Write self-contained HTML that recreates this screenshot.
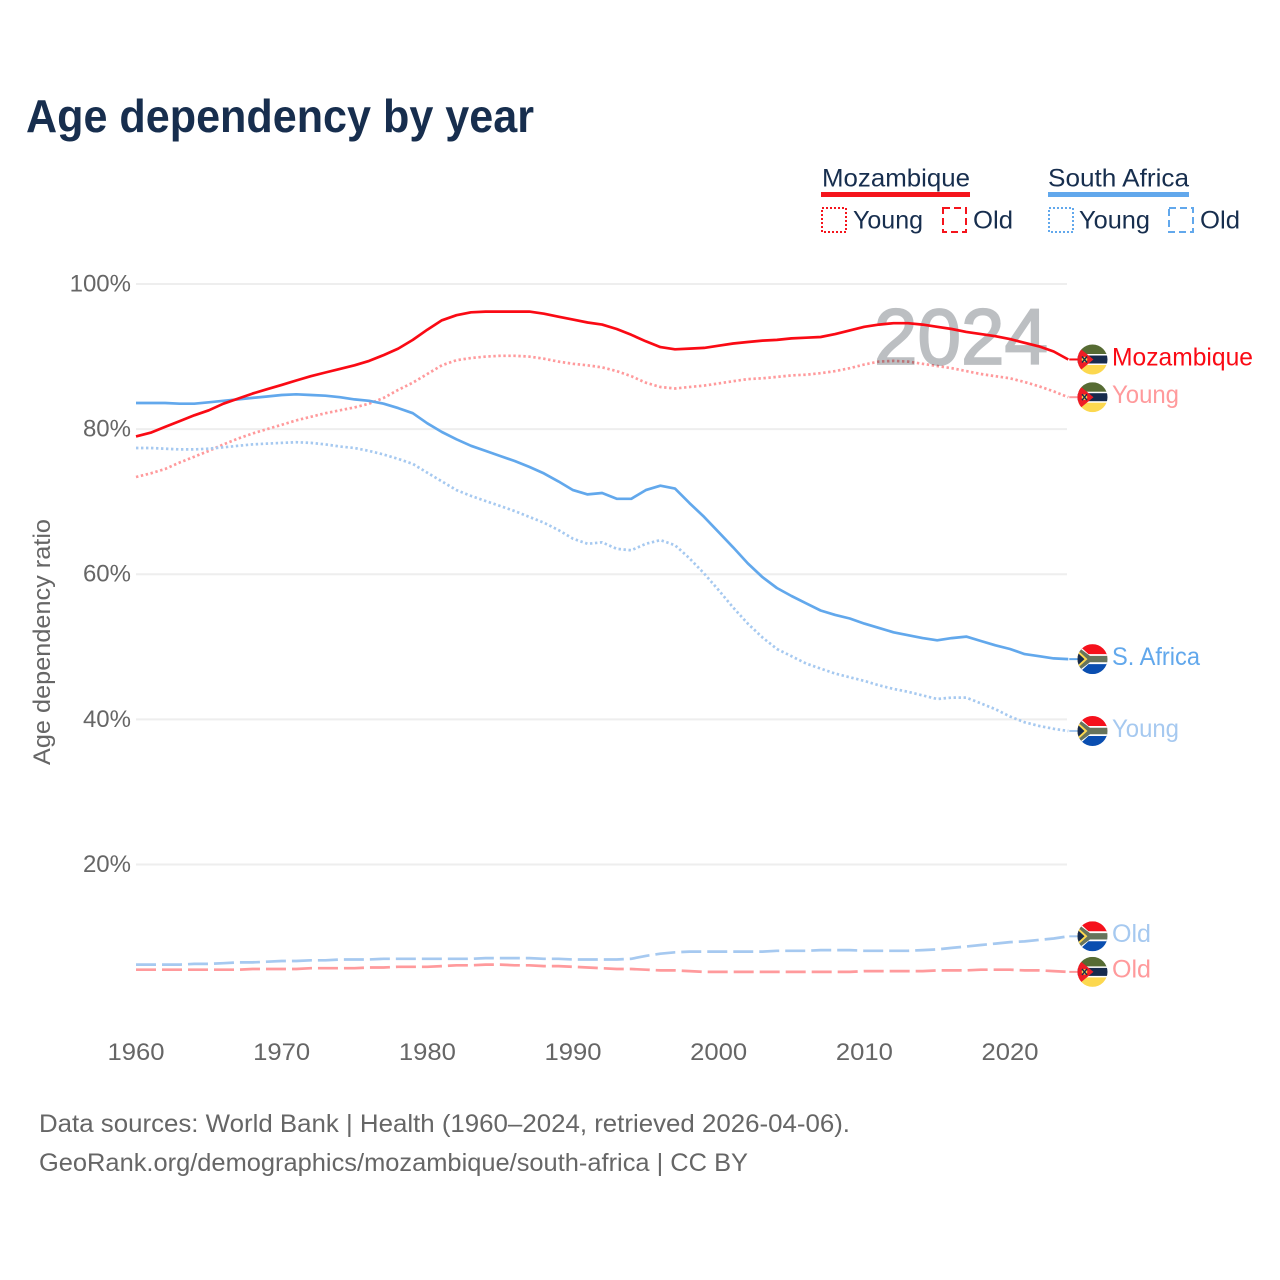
<!DOCTYPE html>
<html lang="en">
<head>
<meta charset="utf-8">
<title>Age dependency by year</title>
<style>
html,body{margin:0;padding:0;background:#fff;}
svg{display:block;font-family:"Liberation Sans",sans-serif;}
</style>
</head>
<body>
<svg id="chart" xmlns="http://www.w3.org/2000/svg" width="1280" height="1280" viewBox="0 0 1280 1280">
  <defs>
    <clipPath id="flag-clip"><circle cx="0" cy="0" r="15"/></clipPath>
    <g id="flag-mz" clip-path="url(#flag-clip)">
      <rect x="-15" y="-15" width="30" height="30" fill="#fff"/>
      <rect x="-15" y="-15" width="30" height="9.5" fill="#566b33"/>
      <rect x="-15" y="-4" width="30" height="8" fill="#172b4d"/>
      <rect x="-15" y="5.5" width="30" height="9.5" fill="#fcd84f"/>
      <path d="M-16,-14 L1,0 L-16,14 Z" fill="#ee1c25"/>
      <circle cx="-8" cy="0" r="2.8" fill="#f6d04d"/>
      <path d="M-10.5,-3 L-5.5,3 M-5.5,-3 L-10.5,3" stroke="#172b4d" stroke-width="1.4"/>
    </g>
    <g id="flag-za" clip-path="url(#flag-clip)">
      <rect x="-15" y="-15" width="30" height="15" fill="#f5111c"/>
      <rect x="-15" y="0" width="30" height="15" fill="#0a4eb0"/>
      <path d="M-15,-15 L-4,-5 L15,-5 L15,5 L-4,5 L-15,15 Z" fill="#fff"/>
      <path d="M-15,-12.5 L-2.5,-3.2 L15,-3.2 L15,3.2 L-2.5,3.2 L-15,12.5 Z" fill="#67745c"/>
      <path d="M-15,-9 L-5,0 L-15,9 Z" fill="#fcd84f"/>
      <path d="M-15,-6.5 L-8,0 L-15,6.5 Z" fill="#172b4d"/>
    </g>
  </defs>

  <text x="26" y="132" font-size="46" font-weight="700" fill="#172e4e" textLength="508" lengthAdjust="spacingAndGlyphs">Age dependency by year</text>

  <g>
    <g>
      <text x="822" y="186.5" font-size="25" fill="#172e4e" textLength="148" lengthAdjust="spacingAndGlyphs">Mozambique</text>
      <rect x="821" y="192" width="149" height="5" fill="#f5141c"/>
      <rect x="822" y="208" width="24" height="24" fill="none" stroke="#f5141c" stroke-width="2" stroke-dasharray="2 2"/>
      <text x="853" y="228.5" font-size="25" fill="#172e4e" textLength="70" lengthAdjust="spacingAndGlyphs">Young</text>
      <rect x="943" y="208" width="23" height="24" fill="none" stroke="#f5141c" stroke-width="2" stroke-dasharray="7 4"/>
      <text x="973" y="228.5" font-size="25" fill="#172e4e" textLength="40" lengthAdjust="spacingAndGlyphs">Old</text>
    </g>
    <g>
      <text x="1048" y="186.5" font-size="25" fill="#172e4e" textLength="141" lengthAdjust="spacingAndGlyphs">South Africa</text>
      <rect x="1048" y="192" width="141" height="5" fill="#62a8ec"/>
      <rect x="1049" y="208" width="24" height="24" fill="none" stroke="#62a8ec" stroke-width="2" stroke-dasharray="2 2"/>
      <text x="1079" y="228.5" font-size="25" fill="#172e4e" textLength="71" lengthAdjust="spacingAndGlyphs">Young</text>
      <rect x="1169" y="208" width="24" height="24" fill="none" stroke="#62a8ec" stroke-width="2" stroke-dasharray="7 4"/>
      <text x="1200" y="228.5" font-size="25" fill="#172e4e" textLength="40" lengthAdjust="spacingAndGlyphs">Old</text>
    </g>
  </g>

  <text transform="translate(50,642) rotate(-90)" text-anchor="middle" font-size="24" fill="#666" textLength="246" lengthAdjust="spacingAndGlyphs">Age dependency ratio</text>

  <g id="grid"></g>
  <g id="yticks"></g>
  <g id="xticks"></g>
  <g id="series-under"></g>
  <text x="874" y="364" font-size="79" fill="#bcbfc2" stroke="#bcbfc2" stroke-width="1.8" textLength="174" lengthAdjust="spacingAndGlyphs" style="mix-blend-mode:multiply">2024</text>
  <g id="series-over"></g>
  <g id="end-labels"></g>

  <text x="39" y="1132" font-size="25" fill="#666" textLength="811" lengthAdjust="spacingAndGlyphs">Data sources: World Bank | Health (1960–2024, retrieved 2026-04-06).</text>
  <text x="39" y="1171" font-size="25" fill="#666" textLength="709" lengthAdjust="spacingAndGlyphs">GeoRank.org/demographics/mozambique/south-africa | CC BY</text>
</svg>

<script>
const startYear = 1960;
const xTickYears = [1960, 1970, 1980, 1990, 2000, 2010, 2020];
const yTickValues = [20, 40, 60, 80, 100];

const mozambiqueTotal = [
  79.0, 79.5, 80.3, 81.1, 81.9, 82.6, 83.5, 84.2, 84.9, 85.5,
  86.1, 86.7, 87.3, 87.8, 88.3, 88.8, 89.4, 90.2, 91.1, 92.3,
  93.7, 95.0, 95.7, 96.1, 96.2, 96.2, 96.2, 96.2, 95.9, 95.5,
  95.1, 94.7, 94.4, 93.8, 93.0, 92.1, 91.3, 91.0, 91.1, 91.2,
  91.5, 91.8, 92.0, 92.2, 92.3, 92.5, 92.6, 92.7, 93.1, 93.6,
  94.1, 94.4, 94.6, 94.6, 94.4, 94.1, 93.8, 93.4, 93.1, 92.8,
  92.4, 91.9, 91.4, 90.7, 89.6
];
const mozambiqueYoung = [
  73.4, 73.9, 74.5, 75.4, 76.2, 77.0, 77.9, 78.7, 79.4, 80.0,
  80.6, 81.2, 81.7, 82.2, 82.6, 83.0, 83.5, 84.3, 85.4, 86.4,
  87.6, 88.8, 89.5, 89.8, 90.0, 90.1, 90.1, 90.0, 89.7, 89.3,
  89.0, 88.8, 88.5, 88.0, 87.3, 86.4, 85.8, 85.6, 85.8, 86.0,
  86.3, 86.6, 86.9, 87.0, 87.2, 87.4, 87.5, 87.7, 88.0, 88.4,
  88.9, 89.3, 89.4, 89.3, 89.0, 88.7, 88.4, 88.0, 87.6, 87.3,
  87.0, 86.5, 85.9, 85.2, 84.4
];
const mozambiqueOld = [
  5.5, 5.5, 5.5, 5.5, 5.5, 5.5, 5.5, 5.5, 5.6, 5.6,
  5.6, 5.6, 5.7, 5.7, 5.7, 5.7, 5.8, 5.8, 5.9, 5.9,
  5.9, 6.0, 6.1, 6.1, 6.2, 6.2, 6.1, 6.1, 6.0, 6.0,
  5.9, 5.8, 5.7, 5.6, 5.6, 5.5, 5.4, 5.4, 5.3, 5.2,
  5.2, 5.2, 5.2, 5.2, 5.2, 5.2, 5.2, 5.2, 5.2, 5.2,
  5.3, 5.3, 5.3, 5.3, 5.3, 5.4, 5.4, 5.4, 5.5, 5.5,
  5.5, 5.4, 5.4, 5.3, 5.2
];
const southAfricaTotal = [
  83.6, 83.6, 83.6, 83.5, 83.5, 83.7, 83.9, 84.1, 84.3, 84.5,
  84.7, 84.8, 84.7, 84.6, 84.4, 84.1, 83.9, 83.5, 82.9, 82.2,
  80.8, 79.6, 78.6, 77.7, 77.0, 76.3, 75.6, 74.8, 73.9, 72.8,
  71.6, 71.0, 71.2, 70.4, 70.4, 71.6, 72.2, 71.8, 69.8, 67.9,
  65.8, 63.7, 61.5, 59.6, 58.1, 57.0, 56.0, 55.0, 54.4, 53.9,
  53.2, 52.6, 52.0, 51.6, 51.2, 50.9, 51.2, 51.4, 50.8, 50.2,
  49.7, 49.0, 48.7, 48.4, 48.3
];
const southAfricaYoung = [
  77.4, 77.4, 77.3, 77.2, 77.2, 77.3, 77.5, 77.7, 77.9, 78.0,
  78.1, 78.2, 78.1, 77.9, 77.6, 77.4, 77.0, 76.5, 75.9, 75.2,
  74.0, 72.8, 71.6, 70.8, 70.1, 69.4, 68.7, 67.9, 67.1, 66.1,
  64.9, 64.2, 64.4, 63.5, 63.3, 64.2, 64.7, 64.0, 62.2, 60.1,
  57.8, 55.4, 53.2, 51.3, 49.7, 48.7, 47.7, 47.0, 46.3, 45.8,
  45.3, 44.7, 44.2, 43.8, 43.3, 42.8, 43.0, 43.0, 42.2, 41.4,
  40.4, 39.6, 39.1, 38.7, 38.4
];
const southAfricaOld = [
  6.2, 6.2, 6.2, 6.2, 6.3, 6.3, 6.4, 6.5, 6.5, 6.6,
  6.7, 6.7, 6.8, 6.8, 6.9, 6.9, 6.9, 7.0, 7.0, 7.0,
  7.0, 7.0, 7.0, 7.0, 7.1, 7.1, 7.1, 7.1, 7.0, 7.0,
  6.9, 6.9, 6.9, 6.9, 7.0, 7.4, 7.7, 7.9, 8.0, 8.0,
  8.0, 8.0, 8.0, 8.0, 8.1, 8.1, 8.1, 8.2, 8.2, 8.2,
  8.1, 8.1, 8.1, 8.1, 8.2, 8.3, 8.5, 8.7, 8.9, 9.1,
  9.3, 9.4, 9.6, 9.8, 10.1
];

const SVG_NS = 'http://www.w3.org/2000/svg';
function xScale(year) { return 136 + (year - 1960) * (874 / 60); }
function yScale(value) { return 1009.6 - value * 7.256; }
function make(tag, attrs, parent) {
  const el = document.createElementNS(SVG_NS, tag);
  Object.keys(attrs).forEach(function (k) { el.setAttribute(k, attrs[k]); });
  parent.appendChild(el);
  return el;
}

const gridGroup = document.getElementById('grid');
const yTickGroup = document.getElementById('yticks');
yTickValues.forEach(function (v) {
  const line = make('line', { x1: 136, x2: 1067, y1: yScale(v), y2: yScale(v), stroke: '#eeeeee', 'stroke-width': 2 }, gridGroup);
  
  
  const label = make('text', { x: 131, y: yScale(v) + 7.5, 'text-anchor': 'end', 'font-size': 24, fill: '#666' }, yTickGroup);
  
  
  label.textContent = v + '%';
});

const xTickGroup = document.getElementById('xticks');
xTickYears.forEach(function (y) {
  const label = make('text', { x: xScale(y), y: 1060, 'text-anchor': 'middle', 'font-size': 24, fill: '#666', textLength: 57, lengthAdjust: 'spacingAndGlyphs' }, xTickGroup);
  
  
  label.textContent = y;
});

const DOT = '2.4 2.6';
const DASH = '20 6';
const underGroup = document.getElementById('series-under');
const overGroup = document.getElementById('series-over');
const labelGroup = document.getElementById('end-labels');

function drawSeries(values, key, color, dash, flag, text, textWidth, parent) {
  const pts = values.map(function (v, i) {
    return xScale(startYear + i).toFixed(1) + ',' + yScale(v).toFixed(1);
  }).join(' ');
  const line = make('polyline', { points: pts, fill: 'none', stroke: color, 'stroke-width': 2.7, 'stroke-linejoin': 'round' }, parent);
  if (dash) { line.setAttribute('stroke-dasharray', dash); }
  
  

  const endX = xScale(startYear + values.length - 1);
  const endY = yScale(values[values.length - 1]);
  const connector = make('line', { x1: endX + 1, x2: 1080, y1: endY, y2: endY, stroke: color, 'stroke-width': 2 }, labelGroup);
  
  

  const badge = make('use', { href: '#' + flag, transform: 'translate(1092.5,' + endY.toFixed(1) + ')' }, labelGroup);
  
  

  const label = make('text', { x: 1112, y: endY + 5.8, 'font-size': 25, fill: color, textLength: textWidth, lengthAdjust: 'spacingAndGlyphs' }, labelGroup);
  
  
  label.textContent = text;
}

drawSeries(mozambiqueYoung, 'mozambique-young', '#ff9a9c', DOT, 'flag-mz', 'Young', 67, underGroup);
drawSeries(southAfricaOld, 'south-africa-old', '#a6c9f0', DASH, 'flag-za', 'Old', 39, overGroup);
drawSeries(mozambiqueOld, 'mozambique-old', '#ff9a9c', DASH, 'flag-mz', 'Old', 39, overGroup);
drawSeries(southAfricaYoung, 'south-africa-young', '#a6c9f0', DOT, 'flag-za', 'Young', 67, overGroup);
drawSeries(southAfricaTotal, 'south-africa-total', '#62a8ec', null, 'flag-za', 'S. Africa', 88, overGroup);
drawSeries(mozambiqueTotal, 'mozambique-total', '#fa0a14', null, 'flag-mz', 'Mozambique', 141, overGroup);
</script>
</body>
</html>
